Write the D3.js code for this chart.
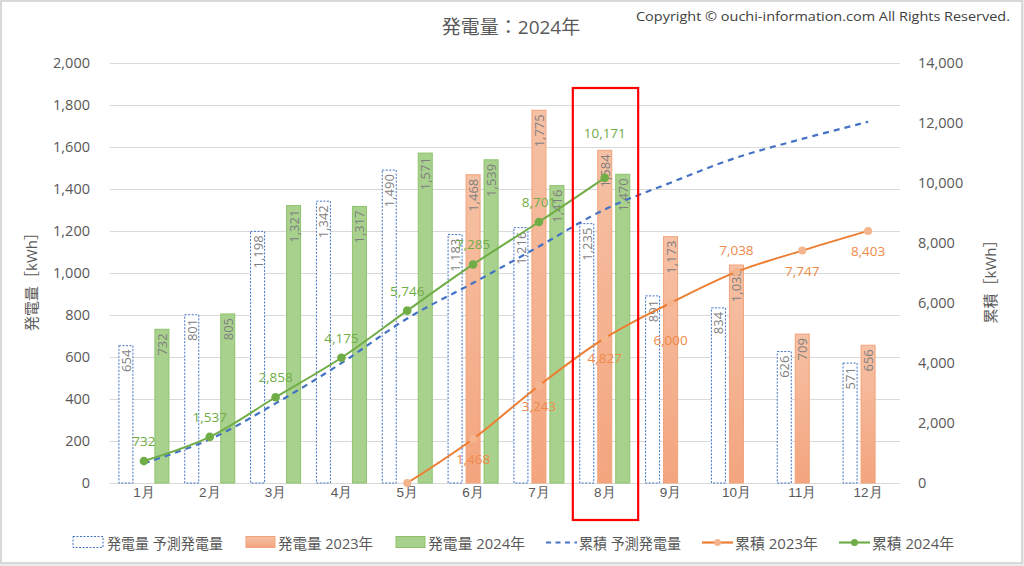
<!DOCTYPE html>
<html><head><meta charset="utf-8">
<script src="https://cdn.jsdelivr.net/npm/d3@7/dist/d3.min.js"></script>
<style>
html,body{margin:0;padding:0;background:#ececec;}
svg{display:block;font-family:"Open Sans","Noto Sans CJK JP",sans-serif;}
</style></head>
<body>
<svg id="c" width="1024" height="566"></svg>
<script>
// ---- data ----
const months = ["1月","2月","3月","4月","5月","6月","7月","8月","9月","10月","11月","12月"];
const forecastMonthly = [654,801,1198,1342,1490,1183,1216,1235,891,834,626,571];
const gen2023 = [null,null,null,null,null,1468,1775,1584,1173,1038,709,656];
const gen2024 = [732,805,1321,1317,1571,1539,1416,1470,null,null,null,null];
const cumForecast = [654,1455,2653,3995,5485,6668,7884,9119,10010,10844,11470,12041];
const cum2023 = [null,null,null,null,0,1468,3243,4827,6000,7038,7747,8403];
const cum2024 = [732,1537,2858,4175,5746,7285,8701,10171,null,null,null,null];
const leftTicks = [0,200,400,600,800,1000,1200,1400,1600,1800,2000];
const rightTicks = [0,2000,4000,6000,8000,10000,12000,14000];
const legendLabels = ["発電量 予測発電量","発電量 2023年","発電量 2024年","累積 予測発電量","累積 2023年","累積 2024年"];
const titleText = "発電量：2024年";
const copyrightText = "Copyright © ouchi-information.com All Rights Reserved.";
const highlightMonth = "8月";

// label nudges (layout only)
const nudge2024 = {"8月": -45};
const nudge2023 = {"9月": 37, "10月": -22};

const svg = d3.select("#c");
svg.append("rect").attr("x",1).attr("y",1).attr("width",1021).attr("height",562)
  .attr("fill","#fff").attr("stroke","#cfcfcf").attr("stroke-width",1.5);

const x = d3.scaleBand().domain(months).range([111,901]).padding(0);
const cx = m => x(m) + x.bandwidth()/2;
const yL = d3.scaleLinear().domain([0,2000]).range([483,63]);
const yR = d3.scaleLinear().domain([0,14000]).range([483,63]);

const gray = "#595959";

// grid
svg.append("g").selectAll("line").data(leftTicks).join("line")
  .attr("x1",110).attr("x2",900).attr("y1",d=>Math.round(yL(d))+0.5).attr("y2",d=>Math.round(yL(d))+0.5)
  .attr("stroke","#d9d9d9").attr("stroke-width",1);

// left axis
const axL = d3.axisLeft(yL).tickValues(leftTicks).tickFormat(d3.format(",")).tickSize(0).tickPadding(0);
const gL = svg.append("g").attr("transform","translate(90,0)").call(axL);
gL.select(".domain").remove();
gL.selectAll("text").attr("fill",gray).attr("font-size",14.5).attr("font-family","Open Sans");

// right axis
const axR = d3.axisRight(yR).tickValues(rightTicks).tickFormat(d3.format(",")).tickSize(0).tickPadding(0);
const gR = svg.append("g").attr("transform","translate(918,0)").call(axR);
gR.select(".domain").remove();
gR.selectAll("text").attr("fill",gray).attr("font-size",14.5).attr("font-family","Open Sans");

// x axis
const axX = d3.axisBottom(x).tickSize(0).tickPadding(0);
const gX = svg.append("g").attr("transform","translate(0,485)").call(axX);
gX.select(".domain").remove();
gX.selectAll("text").attr("fill",gray).attr("font-size",13.5).attr("dy","0.9em");

// axis titles
svg.append("text").attr("transform","translate(31,278) rotate(-90)").attr("text-anchor","middle")
  .attr("dominant-baseline","central").attr("fill",gray).attr("font-size",15).text("発電量［kWh］");
svg.append("text").attr("transform","translate(990,278) rotate(-90)").attr("text-anchor","middle")
  .attr("dominant-baseline","central").attr("fill",gray).attr("font-size",15).text("累積［kWh］");

// title & copyright
svg.append("text").attr("x",511).attr("y",34).attr("text-anchor","middle").attr("fill",gray)
  .attr("font-size",19).text(titleText);
svg.append("text").attr("x",636).attr("y",21).attr("fill","#404040")
  .attr("font-size",13.5).attr("textLength",374).attr("lengthAdjust","spacingAndGlyphs").text(copyrightText);

// gradient for 2023
const defs = svg.append("defs");
const grad = defs.append("linearGradient").attr("id","og").attr("x1",0).attr("y1",0).attr("x2",0).attr("y2",1);
grad.append("stop").attr("offset","0%").attr("stop-color","#f6c1a5");
grad.append("stop").attr("offset","100%").attr("stop-color","#f3a57e");

const bw = 14, off = 18;
function bars(vals, dx, fill, stroke, dash, labelColor){
  const data = months.map((m,i)=>({m, v: vals[i]})).filter(d=>d.v!=null);
  const g = svg.append("g");
  g.selectAll("rect").data(data).join("rect")
    .attr("x",d=>cx(d.m)+dx-bw/2).attr("y",d=>yL(d.v)).attr("width",bw).attr("height",d=>yL(0)-yL(d.v))
    .attr("fill",fill).attr("stroke",stroke).attr("stroke-width",1).attr("stroke-dasharray",dash);
  g.selectAll("text").data(data).join("text")
    .attr("transform",d=>`translate(${cx(d.m)+dx},${yL(d.v)+4}) rotate(-90)`)
    .attr("text-anchor","end").attr("dominant-baseline","central")
    .attr("fill",labelColor).attr("font-size",13).text(d=>d3.format(",")(d.v));
}
bars(forecastMonthly,-off,"#ffffff","#4472c4","2,1.5","#7f7f7f");
bars(gen2023,0,"url(#og)","#f1a27a",null,"#7f7f7f");
bars(gen2024,off,"#a9d18e","#8dc26a",null,"#7f7f7f");

// lines
function series(vals){ return months.map((m,i)=>({m,v:vals[i]})).filter(d=>d.v!=null); }
const line = d3.line().x(d=>cx(d.m)).y(d=>yR(d.v)).curve(d3.curveCatmullRom.alpha(0.5));

svg.append("path").datum(series(cumForecast)).attr("d",line).attr("fill","none")
  .attr("stroke","#4472c4").attr("stroke-width",2.2).attr("stroke-dasharray","6,5");

const s23 = series(cum2023);
svg.append("path").datum(s23).attr("d",line).attr("fill","none").attr("stroke","#ed7d31").attr("stroke-width",2);
svg.append("g").selectAll("circle").data(s23).join("circle")
  .attr("cx",d=>cx(d.m)).attr("cy",d=>yR(d.v)).attr("r",4).attr("fill","#f4b48e");
svg.append("g").selectAll("text").data(s23.filter(d=>d.v>0)).join("text")
  .attr("x",d=>cx(d.m)).attr("y",d=>yR(d.v)+(nudge2023[d.m]??20))
  .attr("text-anchor","middle").attr("dominant-baseline","central")
  .attr("fill","#ef8a4a").attr("font-size",13.5).text(d=>d3.format(",")(d.v));

const s24 = series(cum2024);
svg.append("path").datum(s24).attr("d",line).attr("fill","none").attr("stroke","#70ad47").attr("stroke-width",2);
svg.append("g").selectAll("circle").data(s24).join("circle")
  .attr("cx",d=>cx(d.m)).attr("cy",d=>yR(d.v)).attr("r",4.3).attr("fill","#70ad47");
svg.append("g").selectAll("text").data(s24).join("text")
  .attr("x",d=>cx(d.m)).attr("y",d=>yR(d.v)+(nudge2024[d.m]??-20))
  .attr("text-anchor","middle").attr("dominant-baseline","central")
  .attr("fill","#70ad47").attr("font-size",13.5).text(d=>d3.format(",")(d.v));

// highlight box
svg.append("rect").attr("x",x(highlightMonth)+1).attr("y",88).attr("width",x.bandwidth()-0.5).attr("height",432)
  .attr("fill","none").attr("stroke","#ff0000").attr("stroke-width",2.2);

// legend
const ly = 542;
const lg = svg.append("g");
const items = [
  {x:73, w:30, type:"box", fill:"#fff", stroke:"#4472c4", dash:"2,1.5", tx:107, tw:116},
  {x:246, w:29, type:"box", fill:"url(#og)", stroke:"#f1a27a", tx:278, tw:95},
  {x:396, w:29, type:"box", fill:"#a9d18e", stroke:"#8dc26a", tx:428, tw:97},
  {x:546, w:31, type:"line", stroke:"#4472c4", dash:"5,4.5", tx:579, tw:102},
  {x:702, w:31, type:"line", stroke:"#ed7d31", dot:"#f4b48e", tx:735, tw:83},
  {x:839, w:31, type:"line", stroke:"#70ad47", dot:"#70ad47", tx:872, tw:82}
];
items.forEach((it,i)=>{
  if(it.type==="box"){
    lg.append("rect").attr("x",it.x).attr("y",ly-5.5).attr("width",it.w).attr("height",11)
      .attr("fill",it.fill).attr("stroke",it.stroke).attr("stroke-dasharray",it.dash||null);
  } else {
    lg.append("line").attr("x1",it.x).attr("x2",it.x+it.w).attr("y1",ly+0.5).attr("y2",ly+0.5)
      .attr("stroke",it.stroke).attr("stroke-width",2.2).attr("stroke-dasharray",it.dash||null);
    if(it.dot) lg.append("circle").attr("cx",it.x+it.w/2).attr("cy",ly+0.5).attr("r",3.5).attr("fill",it.dot);
  }
  lg.append("text").attr("x",it.tx).attr("y",ly+1).attr("dominant-baseline","central")
    .attr("fill",gray).attr("font-size",15).attr("textLength",it.tw).attr("lengthAdjust","spacingAndGlyphs")
    .text(legendLabels[i]);
});
</script>
</body></html>
